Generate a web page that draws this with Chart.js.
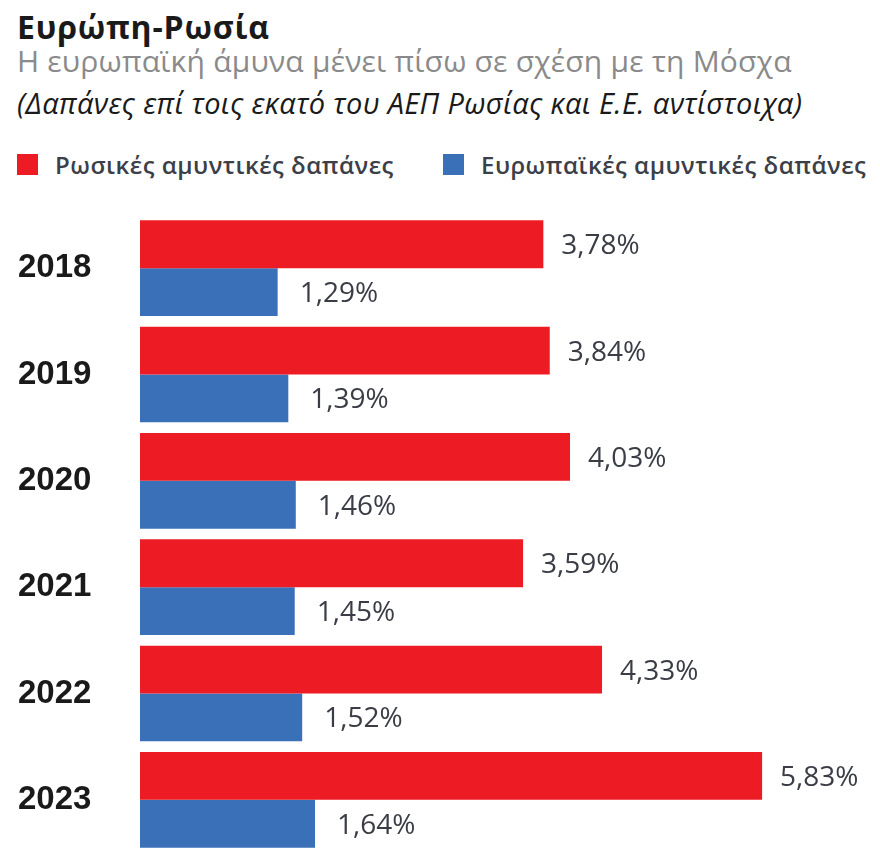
<!DOCTYPE html>
<html lang="el">
<head>
<meta charset="utf-8">
<title>Ευρώπη-Ρωσία</title>
<script src="https://cdn.jsdelivr.net/npm/chart.js@4.4.1/dist/chart.umd.min.js"></script>
<style>
  html, body { margin: 0; padding: 0; background: #fff; }
  body { width: 880px; height: 865px; position: relative; overflow: hidden; font-family: "Open Sans", sans-serif; }
  .head { position: absolute; left: 17px; white-space: nowrap; }
  #title { top: 5px; font-size: 32px; font-weight: 700; color: #1a1a1a; letter-spacing: 0.8px; }
  #subtitle { top: 40px; font-size: 30px; color: #8a8a8a; letter-spacing: 0.2px; }
  #note { top: 83px; font-size: 29px; font-style: italic; color: #1a1a1a; letter-spacing: 0.35px; }
  .legend { position: absolute; top: 148px; display: flex; align-items: center; white-space: nowrap;
            font-size: 24px; font-weight: 600; color: #3c3f48; letter-spacing: 0.5px; }
  .legend span.box { display: inline-block; width: 21px; height: 21px; margin-right: 17px; }
  #lg1 { left: 17px; }
  #lg2 { left: 443px; }
  #chartWrap { position: absolute; left: 0; top: 200px; width: 880px; height: 665px; }
</style>
</head>
<body>
<div class="head" id="title">Ευρώπη-Ρωσία</div>
<div class="head" id="subtitle">Η ευρωπαϊκή άμυνα μένει πίσω σε σχέση με τη Μόσχα</div>
<div class="head" id="note">(Δαπάνες επί τοις εκατό του ΑΕΠ Ρωσίας και Ε.Ε. αντίστοιχα)</div>
<div class="legend" id="lg1"><span class="box" style="background:#ED1C24"></span>Ρωσικές αμυντικές δαπάνες</div>
<div class="legend" id="lg2"><span class="box" style="background:#3A70B8"></span>Ευρωπαϊκές αμυντικές δαπάνες</div>
<div id="chartWrap"><canvas id="chart" width="880" height="665"></canvas></div>

<script>
// --- Datos ---
const years = ['2018', '2019', '2020', '2021', '2022', '2023'];
const russiaSpend = [3.78, 3.84, 4.03, 3.59, 4.33, 5.83];
const europeSpend = [1.29, 1.39, 1.46, 1.45, 1.52, 1.64];
const seriesNames = ['Ρωσικές αμυντικές δαπάνες', 'Ευρωπαϊκές αμυντικές δαπάνες'];

const RED = '#ED1C24';
const BLUE = '#3A70B8';

// Etiquetas de valor a la derecha de cada barra (3,78%)
const valueLabels = {
    id: 'valueLabels',
    afterDatasetsDraw(chart) {
        const ctx = chart.ctx;
        ctx.save();
        ctx.font = '28px "Open Sans", sans-serif';
        ctx.fillStyle = '#3a3d45';
        ctx.textAlign = 'left';
        ctx.textBaseline = 'alphabetic';
        chart.data.datasets.forEach((ds, i) => {
            const meta = chart.getDatasetMeta(i);
            const offset = i === 0 ? 18 : 22;
            meta.data.forEach((bar, j) => {
                const txt = ds.data[j].toFixed(2).replace('.', ',') + '%';
                ctx.fillText(txt, bar.x + offset, bar.y + 10);
            });
        });
        ctx.restore();
    }
};

new Chart(document.getElementById('chart'), {
    type: 'bar',
    data: {
        labels: years,
        datasets: [{
            label: seriesNames[0],
            data: russiaSpend,
            backgroundColor: RED,
            categoryPercentage: 0.9,
            barPercentage: 1.0
        }, {
            label: seriesNames[1],
            data: europeSpend,
            backgroundColor: BLUE,
            categoryPercentage: 0.9,
            barPercentage: 1.0
        }]
    },
    options: {
        indexAxis: 'y',
        responsive: false,
        animation: false,
        layout: { padding: { left: 18, top: 15, bottom: 12, right: 0 } },
        scales: {
            x: { display: false, min: 0, max: 6.935 },
            y: {
                grid: { display: false },
                border: { display: false },
                ticks: {
                    crossAlign: 'far',
                    padding: 0,
                    color: '#1a1a1a',
                    font: { family: '"Liberation Sans", Arial, sans-serif', size: 33, weight: 'bold' }
                },
                afterFit(scale) {
                    scale.width = 122;
                    // sin relleno extra por las etiquetas de los extremos
                    scale.paddingTop = 0;
                    scale.paddingBottom = 0;
                }
            }
        },
        plugins: {
            legend: { display: false },
            tooltip: { enabled: false }
        }
    },
    plugins: [valueLabels]
});
</script>
</body>
</html>
